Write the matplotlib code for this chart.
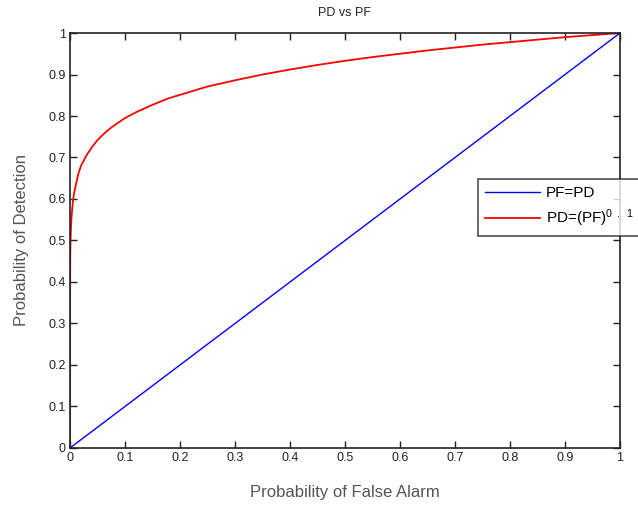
import matplotlib
matplotlib.use("Agg")
import matplotlib.pyplot as plt

plt.rcParams['font.family'] = ['Liberation Sans', 'DejaVu Sans']
plt.rcParams['mathtext.fontset'] = 'custom'
plt.rcParams['mathtext.rm'] = 'Liberation Sans'
plt.rcParams['mathtext.it'] = 'Liberation Sans'

# Blue diagonal PF=PD
pf_line = [0.0, 1.0]
pd_line = [0.0, 1.0]

# Red curve
pf_curve = [0.0, 0.0, 0.0005, 0.001, 0.002, 0.003, 0.005, 0.007, 0.01, 0.015, 0.02,
            0.03, 0.04, 0.05, 0.06, 0.07, 0.08, 0.1, 0.12, 0.15, 0.18, 0.2, 0.25,
            0.3, 0.35, 0.4, 0.45, 0.5, 0.55, 0.6, 0.65, 0.7, 0.75, 0.8, 0.85, 0.9,
            0.95, 1.0]
pd_curve = [0.0, 0.30, 0.47, 0.50, 0.54, 0.56, 0.59, 0.61, 0.63, 0.66, 0.68,
            0.705, 0.725, 0.742, 0.755, 0.767, 0.777, 0.795, 0.809, 0.827, 0.843, 0.851, 0.871,
            0.886, 0.9, 0.912, 0.923, 0.933, 0.942, 0.95, 0.958, 0.965, 0.972, 0.978, 0.984, 0.99,
            0.995, 1.0]

ticks = [0, 0.1, 0.2, 0.3, 0.4, 0.5, 0.6, 0.7, 0.8, 0.9, 1]
tick_labels = ['0', '0.1', '0.2', '0.3', '0.4', '0.5', '0.6', '0.7', '0.8', '0.9', '1']

fig = plt.figure(figsize=(6.38, 5.07), dpi=100)
ax = fig.add_axes([0.1097, 0.1164, 0.8621, 0.8185])

ax.plot(pf_line, pd_line, color='#0000ff', lw=1.0, label='PF=PD')
ax.plot(pf_curve, pd_curve, color='#ff0000', lw=1.3, label=r'PD=(PF)$^{0\;\;.\;\;1}$')

ax.set_xlim(0, 1)
ax.set_ylim(0, 1)
ax.set_xticks(ticks)
ax.set_xticklabels(tick_labels)
ax.set_yticks(ticks)
ax.set_yticklabels(tick_labels)
ax.tick_params(direction='in', top=True, right=True, labelsize=9, colors='#222222',
               length=5, width=1.0, pad=3)
for s in ax.spines.values():
    s.set_linewidth(1.2)
    s.set_color('#222222')

ax.set_xlabel('Probability of False Alarm', fontsize=12, color='#555555', labelpad=15)
ax.set_ylabel('Probability of Detection', fontsize=12, color='#555555', labelpad=14)
ax.set_title('PD vs PF', fontsize=9, color='#222222', pad=12)

leg = ax.legend(loc='upper left', bbox_to_anchor=(0.742, 0.648), fontsize=11,
                frameon=True, fancybox=False, edgecolor='#222222', borderpad=0.45,
                handlelength=3.6, handletextpad=0.4, labelspacing=0.5, borderaxespad=0)
leg.get_frame().set_linewidth(1.2)

fig.savefig('out.png', dpi=100)
